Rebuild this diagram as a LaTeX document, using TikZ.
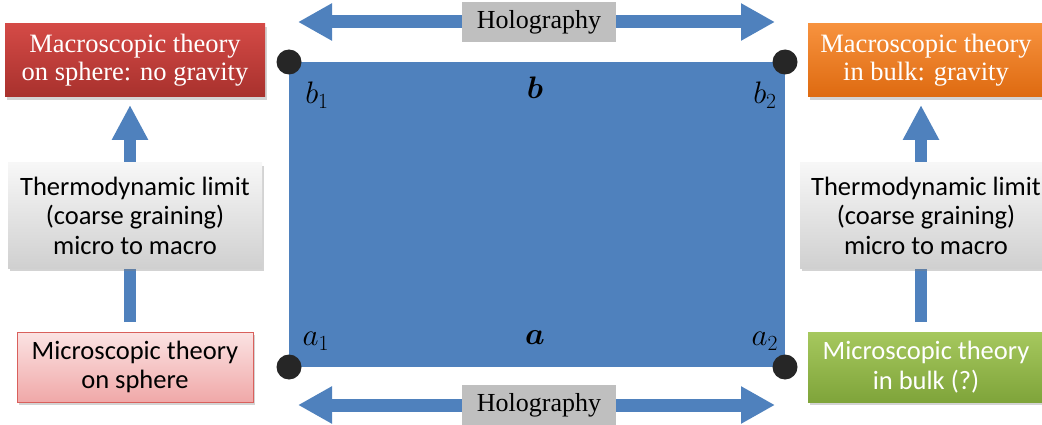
\documentclass[tikz,border=0pt]{standalone}
\usepackage{amsmath}
\usepackage{fontspec}
\setmainfont{Liberation Serif}
\newfontfamily\calfont{Carlito}
\usetikzlibrary{arrows.meta,shadows}
\definecolor{arrblue}{HTML}{4F81BD}
\definecolor{redtop}{HTML}{D44A46}
\definecolor{redbot}{HTML}{A8312D}
\definecolor{orgtop}{HTML}{F7923E}
\definecolor{orgbot}{HTML}{DE6A10}
\definecolor{grntop}{HTML}{A6C85E}
\definecolor{grnbot}{HTML}{7FA43A}
\definecolor{pinktop}{HTML}{FBE3E3}
\definecolor{pinkbot}{HTML}{F0A8A8}
\definecolor{pinkborder}{HTML}{D9605C}
\definecolor{graytop}{HTML}{F7F7F7}
\definecolor{graybot}{HTML}{D0D0D0}
\definecolor{holo}{HTML}{BFBFBF}
\begin{document}
\begin{tikzpicture}[x=1pt,y=-1pt,
  box/.style={rectangle, inner sep=0pt, align=center,
    drop shadow={shadow xshift=2pt, shadow yshift=-3pt, opacity=0.35}},
  serifbox/.style={box, text=white, font=\fontsize{26.5}{28}\selectfont},
  calbox/.style={box, font=\calfont\fontsize{26.5}{29.5}\selectfont},
  uparrow/.style={arrblue, line width=12pt, -{Triangle[width=34pt,length=35pt]}},
  hzarrow/.style={arrblue, line width=13pt, {Triangle[width=35pt,length=34pt]}-{Triangle[width=35pt,length=34pt]}},
  holobox/.style={fill=holo, inner sep=0pt, minimum width=154pt, minimum height=40pt, font=\fontsize{26}{28}\selectfont},
  dot/.style={circle, fill=black!85, inner sep=0pt, minimum size=25pt},
  mlabel/.style={font=\fontsize{24}{26}\selectfont, inner sep=0pt, scale=1.25, transform shape}
]
\useasboundingbox (0,0) rectangle (1042,425);

% central rectangle
\fill[arrblue] (289,62) rectangle (785,367);
\node[mlabel] (lb1) at (317,95) {$b_1$};
\node[mlabel] (lb) at (535,88) {$\boldsymbol{b}$};
\node[mlabel] (lb2) at (765,95) {$b_2$};
\node[mlabel] (la1) at (316,341) {$a_1$};
\node[mlabel] (la) at (535,338) {$\boldsymbol{a}$};
\node[mlabel] (la2) at (765,341) {$a_2$};
\node[dot] (d1) at (289,62) {};
\node[dot] (d2) at (785,62) {};
\node[dot] (d3) at (289,367) {};
\node[dot] (d4) at (785,367) {};

% holography arrows
\coordinate (tl) at (298,22);
\coordinate (tr) at (775,22);
\coordinate (bl) at (298,405);
\coordinate (br) at (775,405);
\draw[hzarrow] (tl) -- (tr);
\draw[hzarrow] (bl) -- (br);
\node[holobox] (holotop) at (539,22) {Holography};
\node[holobox] (holobot) at (539,405) {Holography};

% vertical arrows
\coordinate (ltip) at (130,105);
\coordinate (lbase) at (130,322);
\coordinate (rtip) at (921,105);
\coordinate (rbase) at (921,322);
\draw[uparrow] (lbase) -- (ltip);
\draw[uparrow] (rbase) -- (rtip);

% left column
\node[serifbox, top color=redtop, bottom color=redbot, minimum width=260pt, minimum height=73pt] (macL) at (135,60.5)
  {Macroscopic theory\\on sphere: no gravity};
\node[calbox, top color=graytop, bottom color=graybot, minimum width=254pt, minimum height=105pt] (thL) at (135,215.5)
  {Thermodynamic limit\\(coarse graining)\\micro to macro};
\node[calbox, top color=pinktop, bottom color=pinkbot, draw=pinkborder, line width=1pt, minimum width=236pt, minimum height=70pt] (micL) at (135,367)
  {Microscopic theory\\on sphere};

% right column
\node[serifbox, top color=orgtop, bottom color=orgbot, minimum width=236pt, minimum height=73pt] (macR) at (926,60.5)
  {Macroscopic theory\\in bulk: gravity};
\node[calbox, top color=graytop, bottom color=graybot, minimum width=252pt, minimum height=105pt] (thR) at (926,215.5)
  {Thermodynamic limit\\(coarse graining)\\micro to macro};
\node[calbox, text=white, top color=grntop, bottom color=grnbot, minimum width=236pt, minimum height=70pt] (micR) at (926,367)
  {Microscopic theory\\in bulk (?)};
\end{tikzpicture}
\end{document}
